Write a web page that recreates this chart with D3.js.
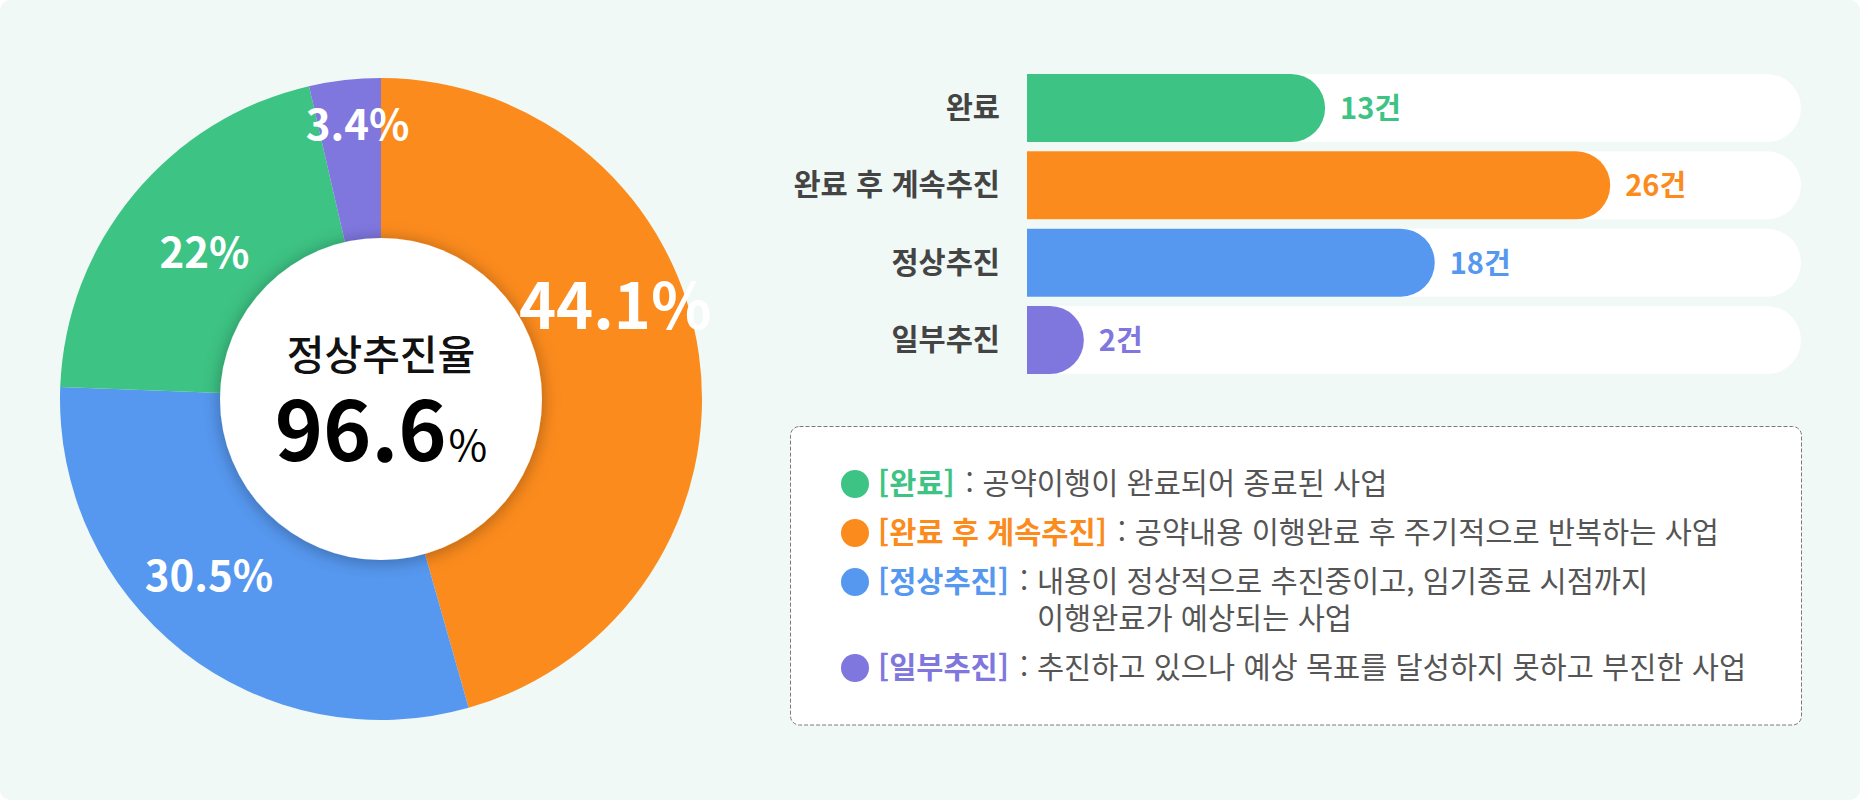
<!DOCTYPE html>
<html lang="ko">
<head>
<meta charset="utf-8">
<script src="https://cdn.jsdelivr.net/npm/d3@7/dist/d3.min.js"></script>
<style>
  html, body { margin: 0; padding: 0; background: #ffffff; }
  svg { display: block; font-family: "Noto Sans CJK KR", "Noto Sans", sans-serif; }
</style>
</head>
<body>
<svg id="chart" width="1860" height="800"></svg>
<script>
// ---------- data ----------
const categories = ["완료", "완료 후 계속추진", "정상추진", "일부추진"];
const counts = [13, 26, 18, 2];
const countUnit = "건";
const categoryColors = ["#3DC384", "#FC8B1D", "#5698F0", "#7F77DE"];

// donut (clockwise from 12 o'clock), slice shares
const pieCategories = ["완료 후 계속추진", "정상추진", "완료", "일부추진"];
const pieShares = [45.6, 30.0, 20.8, 3.6];
const pieLabels = ["44.1%", "30.5%", "22%", "3.4%"];

const centerTitle = "정상추진율";
const centerValue = "96.6";
const centerUnit = "%";

const legendLabels = ["[완료]", "[완료 후 계속추진]", "[정상추진]", "[일부추진]"];
const legendDescriptions = [
  ["공약이행이 완료되어 종료된 사업"],
  ["공약내용 이행완료 후 주기적으로 반복하는 사업"],
  ["내용이 정상적으로 추진중이고, 임기종료 시점까지", "이행완료가 예상되는 사업"],
  ["추진하고 있으나 예상 목표를 달성하지 못하고 부진한 사업"]
];

// ---------- setup ----------
const svg = d3.select("#chart");
const W = 1860, H = 800;
const colorOf = d3.scaleOrdinal().domain(categories).range(categoryColors);

svg.append("rect").attr("x", 0).attr("y", 0).attr("width", W).attr("height", H)
  .attr("rx", 10).attr("fill", "#F0F9F5");

const defs = svg.append("defs");
const f = defs.append("filter").attr("id", "shadow")
  .attr("x", "-30%").attr("y", "-30%").attr("width", "160%").attr("height", "160%");
f.append("feDropShadow").attr("dx", 0).attr("dy", 2).attr("stdDeviation", 9)
  .attr("flood-color", "#000").attr("flood-opacity", 0.32);

// ---------- donut ----------
const cx = 381, cy = 399, outerR = 321, holeR = 161;
const gPie = svg.append("g").attr("transform", `translate(${cx},${cy})`);
const pieData = d3.pie().sort(null).value(d => d.v)(
  pieShares.map((v, i) => ({ v, cat: pieCategories[i], label: pieLabels[i] }))
);
const arc = d3.arc().innerRadius(0).outerRadius(outerR);
gPie.selectAll("path.slice").data(pieData).join("path")
  .attr("class", "slice")
  .attr("d", arc)
  .attr("fill", d => colorOf(d.data.cat));

gPie.append("circle").attr("r", holeR).attr("fill", "#fff").attr("filter", "url(#shadow)");

// slice labels: placed at a radius along (nudged) mid-angle
const labelLayout = [{ r: 252, da: -13.7 }, { r: 247, da: 6 }, { r: 229, da: 0 }, { r: 275, da: 1.6 }];
gPie.selectAll("text.slabel").data(pieData).join("text")
  .attr("class", "slabel")
  .each(function (d, i) {
    const mid = (d.startAngle + d.endAngle) / 2 + labelLayout[i].da * Math.PI / 180;
    const r = labelLayout[i].r;
    const fs = d.data.v > 40 ? 63 : 42;
    d3.select(this)
      .attr("x", r * Math.sin(mid))
      .attr("y", -r * Math.cos(mid) + fs * 0.36)
      .attr("font-size", fs);
  })
  .attr("text-anchor", "middle")
  .attr("font-weight", 700)
  .attr("fill", "#fff")
  .text(d => d.data.label);

gPie.append("text")
  .attr("x", 0).attr("y", -29)
  .attr("text-anchor", "middle")
  .attr("font-size", 41).attr("font-weight", 500).attr("fill", "#111")
  .text(centerTitle);
const cv = gPie.append("text")
  .attr("x", 0).attr("y", 62)
  .attr("text-anchor", "middle").attr("fill", "#000");
cv.append("tspan").attr("font-size", 82).attr("font-weight", 700).text(centerValue);
cv.append("tspan").attr("font-size", 42).attr("font-weight", 400).attr("dx", 2).text(centerUnit);

// ---------- bars ----------
const barX0 = 1027, trackW = 774, axisMax = 34.7, minBar = 13;
const y = d3.scaleBand().domain(categories).range([74, 374]).paddingInner(0.12).paddingOuter(0);
const x = d3.scaleLinear().domain([0, axisMax]).range([minBar, trackW]);
const bh = y.bandwidth();

function pillRight(x0, y0, w, h) {
  const r = Math.min(h / 2, w);
  return `M${x0},${y0}H${x0 + w - r}A${r},${r} 0 0 1 ${x0 + w},${y0 + r}` +
         `A${r},${r} 0 0 1 ${x0 + w - r},${y0 + h}H${x0}Z`;
}

const gBars = svg.append("g");
const rows = gBars.selectAll("g.row").data(categories.map((c, i) => ({ c, v: counts[i] })))
  .join("g").attr("class", "row");

rows.append("path")
  .attr("d", d => pillRight(barX0, y(d.c), x(axisMax), bh))
  .attr("fill", "#fff");
rows.append("path")
  .attr("d", d => pillRight(barX0, y(d.c), x(d.v), bh))
  .attr("fill", d => colorOf(d.c));
rows.append("text")
  .attr("x", d => barX0 + x(d.v) + 15)
  .attr("y", d => y(d.c) + bh / 2 + 11)
  .attr("font-size", 29).attr("font-weight", 700)
  .attr("fill", d => colorOf(d.c))
  .text(d => d.v + countUnit);
rows.append("text")
  .attr("x", barX0 - 27)
  .attr("y", d => y(d.c) + bh / 2 + 10)
  .attr("text-anchor", "end")
  .attr("font-size", 29.5).attr("font-weight", 700)
  .attr("fill", "#444")
  .text(d => d.c);

// ---------- legend ----------
const lg = svg.append("g");
lg.append("rect")
  .attr("x", 790.5).attr("y", 426.5).attr("width", 1011).attr("height", 298.5)
  .attr("rx", 9).attr("fill", "#fff")
  .attr("stroke", "#7a7a7a").attr("stroke-width", 1).attr("stroke-dasharray", "4,2");

const markerX = 855, textX = 878, lineH = 37, rowGap = 12, lfs = 29.5;
let rowY = 484;
categories.forEach((c, i) => {
  const col = colorOf(c);
  lg.append("circle").attr("cx", markerX).attr("cy", rowY).attr("r", 14).attr("fill", col);
  const lab = lg.append("text")
    .attr("x", textX).attr("y", rowY + 10)
    .attr("font-size", lfs).attr("font-weight", 700).attr("fill", col)
    .text(legendLabels[i]);
  const labEnd = textX + lab.node().getComputedTextLength();
  lg.append("text")
    .attr("x", labEnd + 11).attr("y", rowY + 10)
    .attr("font-size", lfs).attr("fill", "#555")
    .text(":");
  legendDescriptions[i].forEach((line, j) => {
    lg.append("text")
      .attr("x", labEnd + 28).attr("y", rowY + 10 + j * lineH)
      .attr("font-size", lfs).attr("fill", "#555")
      .text(line);
  });
  rowY += legendDescriptions[i].length * lineH + rowGap;
});
</script>
</body>
</html>
